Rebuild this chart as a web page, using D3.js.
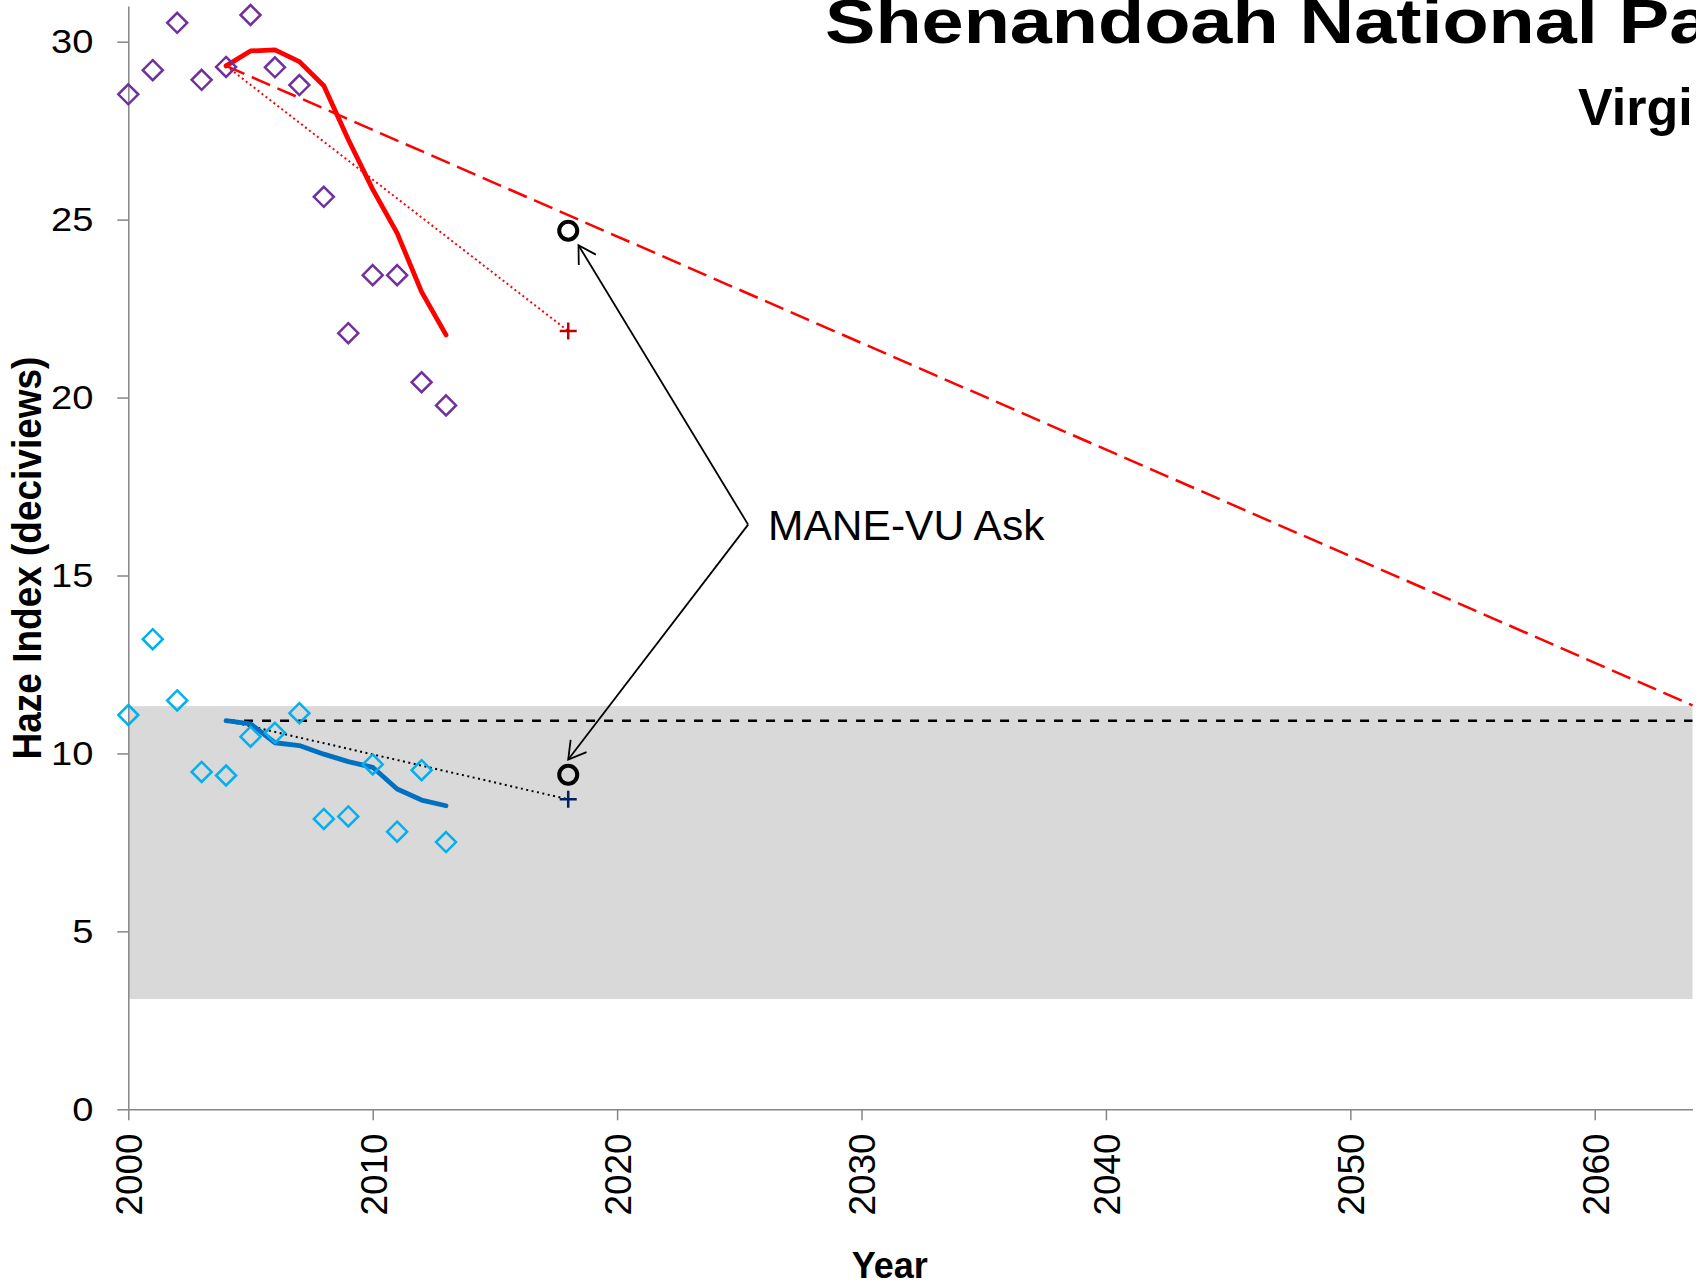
<!DOCTYPE html>
<html>
<head>
<meta charset="utf-8">
<script src="https://cdnjs.cloudflare.com/ajax/libs/d3/7.8.5/d3.min.js"></script>
<style>
  body { margin: 0; background: #fff; }
  svg { display: block; font-family: "Liberation Sans", Arial, sans-serif; }
</style>
</head>
<body>
<svg id="chart" width="1696" height="1285"></svg>
<script>
// yearly haze index, 20% worst and 20% best days
const years = [2000, 2001, 2002, 2003, 2004, 2005, 2006, 2007, 2008, 2009, 2010, 2011, 2012, 2013]
const worstDays = [28.52, 29.20, 30.53, 28.93, 29.29, 30.75, 29.28, 28.78, 25.64, 21.81, 23.44, 23.44, 20.43, 19.78]
const bestDays = [11.08, 13.21, 11.49, 9.48, 9.38, 10.47, 10.58, 11.13, 8.16, 8.23, 9.69, 7.80, 9.53, 7.51]

// 5 year rolling averages
const avgYears = [2004, 2005, 2006, 2007, 2008, 2009, 2010, 2011, 2012, 2013]
const worstAvg = [29.32, 29.74, 29.77, 29.44, 28.76, 27.25, 25.85, 24.62, 22.97, 21.76]
const bestAvg = [10.92, 10.83, 10.30, 10.22, 9.98, 9.77, 9.61, 9.00, 8.69, 8.53]

// glide path, no-degradation line, trends to 2018, MANE-VU ask
const planYears = [2004, 2018, 2064]
const glideWorst = [29.32, 11.35]      // baseline -> natural conditions (2064)
const noDegradeBest = [10.92, 10.92]   // 2004 -> 2064
const trendWorst = [29.32, 21.87]      // 2004 -> 2018
const trendBest = [10.92, 8.71]        // 2004 -> 2018
const askValues = [24.69, 9.40]        // 2018
const naturalRange = [3.10, 11.33]

// annotation anchor and arrow tips (year, deciviews)
const annotPoint = [2025.36, 16.43]
const arrowTips = [[2018.42, 24.28], [2018.0, 9.83]]

const xTicks = [2000, 2010, 2020, 2030, 2040, 2050, 2060]
const yTicks = [0, 5, 10, 15, 20, 25, 30]

const svg = d3.select("#chart")

const x = d3.scaleLinear().domain([2000, 2064]).range([128.3, 1692.5])
const y = d3.scaleLinear().domain([0, 31]).range([1109.3, 6.1])

// natural conditions band
svg.append("rect")
  .attr("x", x(2000))
  .attr("width", x(2064) - x(2000))
  .attr("y", y(naturalRange[1]))
  .attr("height", y(naturalRange[0]) - y(naturalRange[1]))
  .attr("fill", "#d9d9d9")

// axes
const yAxis = svg.append("g")
  .attr("transform", `translate(${x(2000)},0)`)
  .call(d3.axisLeft(y).tickValues(yTicks).tickSize(11).tickSizeOuter(0).tickPadding(24))
yAxis.attr("font-size", null).attr("font-family", null)
yAxis.selectAll("path, line").attr("stroke", "#868686").attr("stroke-width", 1.5)
yAxis.selectAll("text")
  .attr("x", -35 / 1.12)
  .attr("transform", "scale(1.12,1)")
  .style("font-size", "34px")
  .attr("fill", "#000")

const xAxis = svg.append("g")
  .attr("transform", `translate(0,${y(0)})`)
  .call(d3.axisBottom(x).tickValues(xTicks).tickFormat(d3.format("d")).tickSize(11).tickSizeOuter(0))
xAxis.attr("font-size", null).attr("font-family", null)
xAxis.selectAll("path, line").attr("stroke", "#868686").attr("stroke-width", 1.5)
xAxis.selectAll("text")
  .attr("transform", "rotate(-90)")
  .attr("text-anchor", "end")
  .attr("x", -24)
  .attr("y", 0)
  .attr("dy", "0.36em")
  .style("font-size", "37px")
  .attr("fill", "#000")

const line = d3.line().x(d => x(d[0])).y(d => y(d[1]))

// glide path (dashed red) and no degradation (dashed black)
svg.append("path")
  .datum([[planYears[0], glideWorst[0]], [planYears[2], glideWorst[1]]])
  .attr("d", line)
  .attr("fill", "none").attr("stroke", "#ff0000").attr("stroke-width", 2.5)
  .style("stroke-dasharray", "20,8")

svg.append("path")
  .datum([[planYears[0], noDegradeBest[0]], [planYears[2], noDegradeBest[1]]])
  .attr("d", line)
  .attr("fill", "none").attr("stroke", "#000").attr("stroke-width", 2.5)
  .style("stroke-dasharray", "9,9")

// trends to 2018 (dotted)
svg.append("path")
  .datum([[planYears[0], trendWorst[0]], [planYears[1], trendWorst[1]]])
  .attr("d", line)
  .attr("fill", "none").attr("stroke", "#ff0000").attr("stroke-width", 2)
  .style("stroke-dasharray", "2,3")

svg.append("path")
  .datum([[planYears[0], trendBest[0]], [planYears[1], trendBest[1]]])
  .attr("d", line)
  .attr("fill", "none").attr("stroke", "#000").attr("stroke-width", 2)
  .style("stroke-dasharray", "2,3.5")

// rolling averages
svg.append("path")
  .datum(avgYears.map((yr, i) => [yr, worstAvg[i]]))
  .attr("d", line)
  .attr("fill", "none").attr("stroke", "#ff0000").attr("stroke-width", 4.8)
  .attr("stroke-linejoin", "round").attr("stroke-linecap", "round")

svg.append("path")
  .datum(avgYears.map((yr, i) => [yr, bestAvg[i]]))
  .attr("d", line)
  .attr("fill", "none").attr("stroke", "#0070c0").attr("stroke-width", 4.8)
  .attr("stroke-linejoin", "round").attr("stroke-linecap", "round")

// yearly diamonds
const diamond = "M0,-10L10,0L0,10L-10,0Z"
svg.selectAll("worstPts")
  .data(years.map((yr, i) => [yr, worstDays[i]]))
  .join("path")
    .attr("d", diamond)
    .attr("transform", d => `translate(${x(d[0])},${y(d[1])})`)
    .attr("fill", "none").attr("stroke", "#7030a0").attr("stroke-width", 2.5)

svg.selectAll("bestPts")
  .data(years.map((yr, i) => [yr, bestDays[i]]))
  .join("path")
    .attr("d", diamond)
    .attr("transform", d => `translate(${x(d[0])},${y(d[1])})`)
    .attr("fill", "none").attr("stroke", "#00b0f0").attr("stroke-width", 2.5)

// 2018 projections (+)
const cross = "M-8.5,0H8.5M0,-8.5V8.5"
svg.selectAll("trendEnds")
  .data([[trendWorst[1], "#c00000"], [trendBest[1], "#002060"]])
  .join("path")
    .attr("d", cross)
    .attr("transform", d => `translate(${x(planYears[1])},${y(d[0])})`)
    .attr("fill", "none").attr("stroke", d => d[1]).attr("stroke-width", 2.5)

// MANE-VU ask circles
svg.selectAll("askPts")
  .data(askValues)
  .join("circle")
    .attr("cx", x(planYears[1]))
    .attr("cy", d => y(d))
    .attr("r", 9)
    .attr("fill", "none").attr("stroke", "#000").attr("stroke-width", 4)

// annotation arrows
svg.append("defs").append("marker")
  .attr("id", "openArrow")
  .attr("markerUnits", "userSpaceOnUse")
  .attr("viewBox", "-20 -12 24 24")
  .attr("markerWidth", 24).attr("markerHeight", 24)
  .attr("refX", 0).attr("refY", 0)
  .attr("orient", "auto")
  .append("path")
    .attr("d", "M-17,-10L0,0L-17,10")
    .attr("fill", "none").attr("stroke", "#000").attr("stroke-width", 1.8)

arrowTips.forEach(t => {
  svg.append("line")
    .attr("x1", x(annotPoint[0])).attr("y1", y(annotPoint[1]))
    .attr("x2", x(t[0])).attr("y2", y(t[1]))
    .attr("stroke", "#000").attr("stroke-width", 1.8)
    .attr("marker-end", "url(#openArrow)")
})

svg.append("text")
  .attr("x", x(annotPoint[0]) + 20)
  .attr("y", y(annotPoint[1]) + 15)
  .style("font-size", "42.5px")
  .text("MANE-VU Ask")

// titles
svg.append("text")
  .attr("transform", "translate(825,43) scale(1.2,1)")
  .style("font-size", "63px").style("font-weight", "bold")
  .text("Shenandoah National Park")

svg.append("text")
  .attr("x", 1578).attr("y", 125)
  .style("font-size", "52px").style("font-weight", "bold")
  .text("Virginia")

svg.append("text")
  .attr("transform", "translate(41,558) scale(1.1,1) rotate(-90)")
  .attr("text-anchor", "middle")
  .style("font-size", "37px").style("font-weight", "bold")
  .text("Haze Index (deciviews)")

svg.append("text")
  .attr("x", 889.7).attr("y", 1278)
  .attr("text-anchor", "middle")
  .style("font-size", "36px").style("font-weight", "bold")
  .text("Year")
</script>
</body>
</html>
